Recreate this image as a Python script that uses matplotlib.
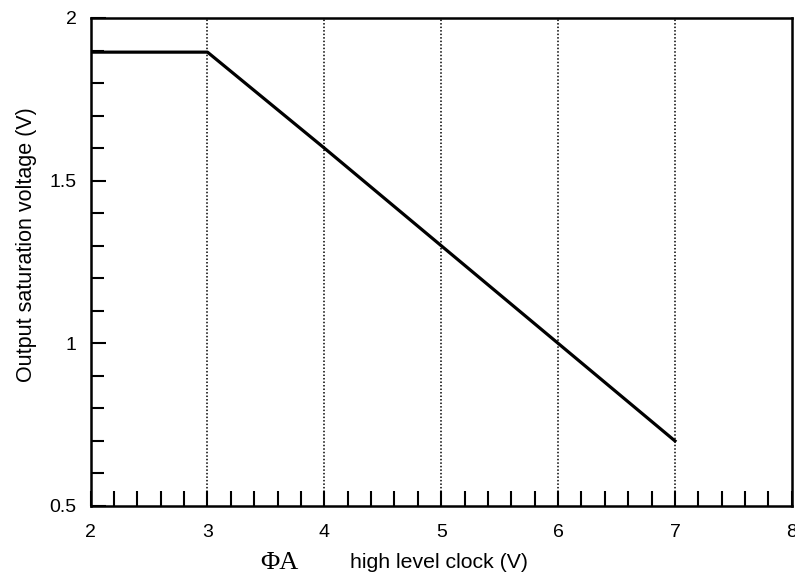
import matplotlib.pyplot as plt
import numpy as np
from matplotlib.ticker import MultipleLocator

# data
clock_v = [2, 3, 4, 5, 6, 7]
sat_v = [1.895, 1.895, 1.6, 1.3, 1.0, 0.7]
grid_x = [3, 4, 5, 6, 7]

plt.rcParams['font.family'] = ['Liberation Sans', 'DejaVu Sans']

fig = plt.figure(figsize=(7.95, 5.8), dpi=100)
ax = fig.add_axes([0.114, 0.1276, 0.882, 0.8414])

for gx in grid_x:
    ax.axvline(gx, color='black', lw=1.1, ls=(0, (1, 1.3)), zorder=1)

ax.plot(clock_v, sat_v, color='black', lw=2.3, zorder=3)

ax.set_xlim(2, 8)
ax.set_ylim(0.5, 2)
ax.xaxis.set_major_locator(MultipleLocator(1))
ax.xaxis.set_minor_locator(MultipleLocator(0.2))
ax.yaxis.set_major_locator(MultipleLocator(0.5))
ax.yaxis.set_minor_locator(MultipleLocator(0.1))
ax.yaxis.set_major_formatter(plt.FuncFormatter(lambda v, p: '%g' % v))

ax.tick_params(which='both', direction='in', width=1.5, labelsize=14, color='black')
ax.tick_params(which='major', length=11)
ax.tick_params(axis='y', which='minor', length=9)
ax.tick_params(axis='x', which='minor', length=11)
ax.tick_params(axis='x', pad=13)
ax.tick_params(axis='y', pad=10)
for s in ax.spines.values():
    s.set_linewidth(1.8)

fig.text(0.033, 1 - 245 / 580, 'Output saturation voltage (V)', fontsize=15.5,
         rotation=90, ha='center', va='center')
fig.text(0.352, 0.03, 'ΦA', family=['Liberation Serif', 'DejaVu Serif'], fontsize=19,
         ha='center', va='center')
fig.text(0.44, 0.03, 'high level clock (V)', fontsize=15.3, ha='left', va='center')

fig.savefig('out.png', dpi=100)
